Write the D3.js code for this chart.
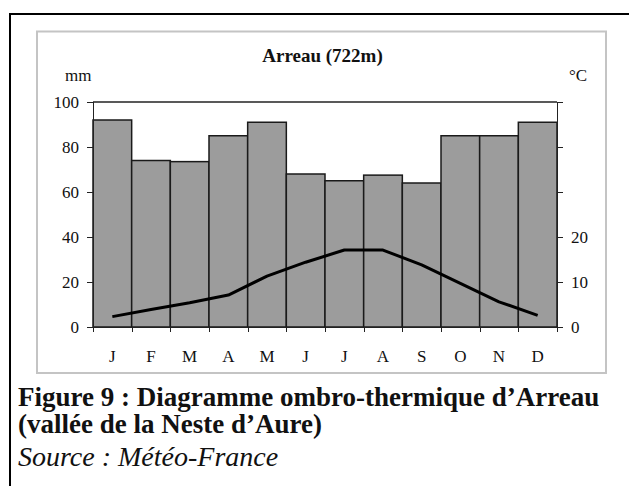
<!DOCTYPE html>
<meta charset="utf-8">
<style>
    body { margin: 0; background: #fff; }
    svg text { font-family: "Liberation Serif", "Times New Roman", serif; fill: #111; }
    .axis path, .axis line { stroke: #222; shape-rendering: crispEdges; }
</style>
<svg width="629" height="486"></svg>
<script src="https://cdn.jsdelivr.net/npm/d3@7/dist/d3.min.js"></script>
<script>
    // pluie (mm) et température (°C) mensuelles, Arreau
    var months = ["J", "F", "M", "A", "M", "J", "J", "A", "S", "O", "N", "D"];
    var rain = [92, 74, 73.5, 85, 91, 68, 65, 67.5, 64, 85, 85, 91];
    var temp = [2.3, 3.9, 5.4, 7.1, 11.3, 14.4, 17.1, 17.1, 13.8, 9.7, 5.6, 2.6];
    var mmTicks = [0, 20, 40, 60, 80, 100];
    var tempTicks = [0, 10, 20, 30, 40, 50];
    var tempLabels = [0, 10, 20];

    var svg = d3.select("svg"),
        pLeft = 93, pRight = 557, pTop = 102, pBottom = 327,
        serif = "Liberation Serif, Times New Roman, serif";

    // cadre noir (coupé à droite et en bas)
    svg.append("rect")
        .attr("x", 10).attr("y", 14)
        .attr("width", 700).attr("height", 600)
        .attr("fill", "none").attr("stroke", "#000").attr("stroke-width", 2);

    // cadre gris du graphique
    svg.append("rect")
        .attr("x", 37).attr("y", 31.5)
        .attr("width", 569).attr("height", 341.5)
        .attr("fill", "#fff").attr("stroke", "#c4c4c4").attr("stroke-width", 2);

    var idx = months.map(function (d, i) { return i; });
    var x = d3.scaleBand().domain(idx).range([pLeft, pRight]).padding(0);
    var yMm = d3.scaleLinear().domain([0, 100]).range([pBottom, pTop]);
    var yT = d3.scaleLinear().domain([0, 50]).range([pBottom, pTop]);

    // haut du cadre du tracé
    svg.append("line")
        .attr("x1", pLeft).attr("x2", pRight)
        .attr("y1", pTop).attr("y2", pTop)
        .attr("stroke", "#222").attr("stroke-width", 1.5);

    svg.append("g").selectAll("rect")
        .data(rain)
        .enter().append("rect")
        .attr("x", function (d, i) { return x(i); })
        .attr("y", function (d) { return yMm(d); })
        .attr("width", x.bandwidth())
        .attr("height", function (d) { return pBottom - yMm(d); })
        .attr("fill", "#9c9c9c")
        .attr("stroke", "#1a1a1a")
        .attr("stroke-width", 1.5);

    // ligne de température
    var line = d3.line()
        .x(function (d, i) { return x(i) + x.bandwidth() / 2; })
        .y(function (d) { return yT(d); });
    svg.append("path")
        .attr("d", line(temp))
        .attr("fill", "none")
        .attr("stroke", "#000")
        .attr("stroke-width", 3)
        .attr("stroke-linejoin", "round");

    function styleAxis(g) {
        g.attr("font-family", null).attr("font-size", null);
        g.select(".domain").attr("stroke-width", 1.5);
        g.selectAll("text")
            .style("font-family", serif)
            .style("font-size", "17px")
            .attr("fill", "#111");
    }

    // axes
    var yAxis = d3.axisLeft(yMm).tickValues(mmTicks).tickSize(6).tickPadding(8);
    svg.append("g").attr("class", "axis")
        .attr("transform", "translate(" + pLeft + ",0)")
        .call(yAxis)
        .call(styleAxis);

    var yAxisR = d3.axisRight(yT).tickValues(tempTicks).tickSize(6).tickPadding(8)
        .tickFormat(function (d) { return tempLabels.indexOf(d) >= 0 ? d : ""; });
    svg.append("g").attr("class", "axis")
        .attr("transform", "translate(" + pRight + ",0)")
        .call(yAxisR)
        .call(styleAxis);

    // axe des mois : tirets aux limites des barres
    var xb = d3.scaleLinear().domain([0, 12]).range([pLeft, pRight]);
    var xAxis = d3.axisBottom(xb).ticks(12).tickSize(5).tickFormat("");
    svg.append("g").attr("class", "axis")
        .attr("transform", "translate(0," + pBottom + ")")
        .call(xAxis)
        .call(styleAxis);

    svg.append("g").selectAll("text")
        .data(months)
        .enter().append("text")
        .attr("x", function (d, i) { return x(i) + x.bandwidth() / 2; })
        .attr("y", 362)
        .attr("text-anchor", "middle")
        .attr("font-size", 17)
        .text(function (d) { return d; });

    // titres
    svg.append("text")
        .attr("x", 322.5).attr("y", 62)
        .attr("text-anchor", "middle")
        .attr("font-size", 19).attr("font-weight", "bold")
        .text("Arreau (722m)");
    svg.append("text")
        .attr("x", 65).attr("y", 81)
        .attr("font-size", 17)
        .text("mm");
    svg.append("text")
        .attr("x", 569).attr("y", 81)
        .attr("font-size", 17)
        .text("°C");

    // légende de la figure
    svg.append("text")
        .attr("x", 18).attr("y", 406)
        .attr("font-size", 27).attr("font-weight", "bold")
        .text("Figure 9 : Diagramme ombro-thermique d’Arreau");
    svg.append("text")
        .attr("x", 18).attr("y", 433)
        .attr("font-size", 27).attr("font-weight", "bold")
        .text("(vallée de la Neste d’Aure)");
    svg.append("text")
        .attr("x", 18).attr("y", 466)
        .attr("font-size", 28).attr("font-style", "italic")
        .text("Source : Météo-France");
</script>
